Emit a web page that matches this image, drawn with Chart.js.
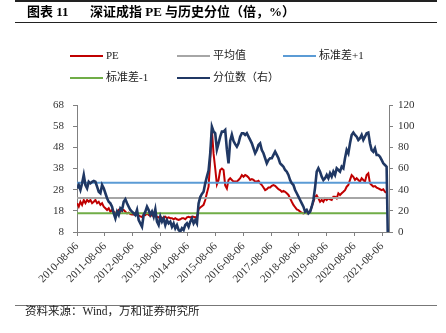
<!DOCTYPE html>
<html><head><meta charset="utf-8">
<script src="https://cdn.jsdelivr.net/npm/chart.js@4.4.0/dist/chart.umd.min.js"></script>
<style>
html,body{margin:0;padding:0;background:#fff;}
#wrap{position:relative;width:446px;height:333px;overflow:hidden;background:#fff;}
canvas{position:absolute;left:0;top:0;}
.t{position:absolute;white-space:nowrap;font-family:"Liberation Serif","Noto Sans CJK SC",serif;color:#000;line-height:1;}
.hr{position:absolute;left:15px;width:422px;}
.lg{position:absolute;white-space:nowrap;font-family:"Liberation Serif","Noto Sans CJK SC",serif;font-size:11px;color:#222;line-height:1;}
.lgline{position:absolute;width:33px;height:2.5px;}
</style></head>
<body><div id="wrap">
<canvas id="c" width="446" height="333" style="width:446px;height:333px"></canvas>
<div class="hr" style="top:0;height:2px;background:#222"></div>
<div class="t" style="left:27px;top:5px;font-size:13px;font-weight:bold">图表 11</div>
<div class="t" style="left:90px;top:5px;font-size:13px;font-weight:bold">深证成指 PE 与历史分位（倍，%）</div>
<div class="hr" style="top:22px;height:1.3px;background:#222"></div>
<div id="legend"></div>
<div class="hr" style="top:305px;height:1.4px;background:#777"></div>
<div class="t" style="left:25px;top:306px;font-size:11.5px;color:#222">资料来源：Wind，万和证券研究所</div>
</div>
<script>
// ---- data ----
const dates = [
2010.60,2010.66,2010.72,2010.78,2010.84,2010.90,2010.96,2011.02,2011.08,2011.14,
2011.20,2011.26,2011.32,2011.38,2011.44,2011.50,2011.56,2011.62,2011.68,2011.74,
2011.80,2011.86,2011.92,2011.98,2012.04,2012.10,2012.16,2012.22,2012.28,2012.34,
2012.40,2012.46,2012.52,2012.58,2012.64,2012.70,2012.76,2012.82,2012.88,2012.94,
2013.00,2013.06,2013.12,2013.18,2013.24,2013.30,2013.36,2013.42,2013.48,2013.54,
2013.60,2013.66,2013.72,2013.78,2013.84,2013.90,2013.96,2014.02,2014.08,2014.14,
2014.20,2014.26,2014.32,2014.38,2014.44,2014.50,2014.56,2014.62,2014.68,2014.74,
2014.80,2014.86,2014.92,2014.98,2015.04,2015.10,2015.16,2015.22,2015.28,2015.34,
2015.40,2015.46,2015.52,2015.58,2015.64,2015.70,2015.76,2015.82,2015.88,2015.94,
2016.00,2016.06,2016.12,2016.18,2016.24,2016.30,2016.36,2016.42,2016.48,2016.54,
2016.60,2016.66,2016.72,2016.78,2016.84,2016.90,2016.96,2017.02,2017.08,2017.14,
2017.20,2017.26,2017.32,2017.38,2017.44,2017.50,2017.56,2017.62,2017.68,2017.74,
2017.80,2017.86,2017.92,2017.98,2018.04,2018.10,2018.16,2018.22,2018.28,2018.34,
2018.40,2018.46,2018.52,2018.58,2018.64,2018.70,2018.76,2018.82,2018.88,2018.94,
2019.00,2019.06,2019.12,2019.18,2019.24,2019.30,2019.36,2019.42,2019.48,2019.54,
2019.60,2019.66,2019.72,2019.78,2019.84,2019.90,2019.96,2020.02,2020.08,2020.14,
2020.20,2020.26,2020.32,2020.38,2020.44,2020.50,2020.56,2020.62,2020.68,2020.74,
2020.80,2020.86,2020.92,2020.98,2021.04,2021.10,2021.16,2021.22,2021.28,2021.34,
2021.40,2021.46,2021.52,2021.58,2021.64,2021.70,2021.76,2021.80
];
const peValues = [
21.6,20.0,22.3,20.8,23.1,21.6,23.1,22.3,23.1,21.6,
22.3,23.1,21.6,22.3,20.8,21.6,20.0,19.2,18.4,19.2,
17.6,18.4,17.6,16.8,17.6,18.4,17.6,18.4,18.4,17.6,
16.8,17.1,16.5,16.3,16.3,16.2,16.4,15.8,15.4,15.1,
16.2,16.0,16.8,16.1,15.6,16.0,15.5,15.6,15.2,14.9,
15.2,14.5,14.9,15.2,14.5,14.9,14.5,14.5,14.0,14.5,
14.0,13.7,14.0,14.5,14.5,14.0,14.9,15.2,14.9,15.2,
15.2,14.9,15.2,18.8,19.6,20.2,20.8,23.1,26.4,29.4,
42.0,56.0,45.0,38.0,30.5,32.6,37.3,38.0,37.3,30.0,
28.5,32.6,33.4,32.6,31.8,31.8,31.8,32.6,33.4,34.9,
34.1,34.9,34.5,33.8,32.6,33.0,32.6,31.8,31.8,32.2,
31.0,30.2,29.0,27.8,28.2,29.0,29.0,29.8,30.2,29.8,
29.0,28.2,27.8,27.0,27.4,27.0,26.3,25.5,23.9,22.3,
20.8,19.7,18.7,18.4,17.6,17.1,16.8,17.1,16.8,16.8,
17.6,20.0,22.3,24.5,25.3,23.9,22.3,23.1,22.3,23.9,
23.1,23.9,23.4,23.1,24.7,24.7,23.9,26.3,25.5,26.3,
27.0,27.8,29.4,30.2,32.6,34.9,34.1,32.6,33.4,32.6,
31.8,33.4,32.6,31.8,34.9,35.7,31.0,30.2,29.4,29.7,
29.0,28.6,28.2,27.8,28.2,27.0,26.6,26.6
];
const percentileValues = [
41.3,44.4,39.7,46.0,53.9,44.4,41.3,47.5,46.0,47.5,
48.2,47.5,42.8,38.1,36.6,44.4,41.3,36.6,31.9,28.6,
27.1,23.9,17.7,12.9,19.2,16.1,22.4,20.8,28.6,30.9,
27.1,23.9,20.8,19.2,17.7,16.1,20.8,11.3,8.2,5.0,
16.1,19.2,23.9,20.8,16.1,19.2,14.5,21.5,9.8,6.6,
14.5,9.8,12.9,6.6,11.3,8.2,9.8,5.0,8.2,3.5,
6.6,1.9,0.3,3.5,1.9,6.6,8.2,5.0,9.8,12.9,
8.2,11.3,8.2,27.0,33.0,36.0,38.1,46.0,52.3,58.0,
74.4,99.5,95.0,93.3,78.0,83.8,90.1,94.8,94.8,96.4,
78.0,64.9,86.0,92.0,86.0,83.0,80.6,83.8,90.1,93.3,
93.3,91.7,93.3,90.1,87.0,83.8,79.1,74.4,77.5,82.2,
83.8,77.5,74.4,69.7,64.9,68.1,69.7,69.7,72.8,75.9,
72.8,69.7,64.9,63.3,61.7,58.6,57.0,53.9,49.1,46.0,
44.4,39.7,36.6,33.4,30.2,27.1,23.9,19.2,20.8,17.7,
19.2,23.9,30.2,42.0,57.0,60.2,57.0,52.3,49.1,50.8,
53.9,50.8,55.5,52.3,57.0,53.9,60.2,58.6,57.0,61.7,
60.2,69.7,77.5,74.4,83.8,91.7,94.0,91.7,90.1,87.0,
88.6,91.7,87.0,90.1,93.3,94.0,83.8,77.5,75.9,79.1,
72.8,72.8,71.2,68.1,64.9,63.3,61.7,0
];
const meanPE = 24.05;
const plusOneSD = 31.3;
const minusOneSD = 16.8;
const tickYears = [2010.596,2011.596,2012.596,2013.596,2014.596,2015.596,2016.596,2017.596,2018.596,2019.596,2020.596,2021.596];
const tickLabels = ['2010-08-06','2011-08-06','2012-08-06','2013-08-06','2014-08-06','2015-08-06','2016-08-06','2017-08-06','2018-08-06','2019-08-06','2020-08-06','2021-08-06'];
const seriesNames = ['PE','平均值','标准差+1','标准差-1','分位数（右）'];

// ---- build ----
const pts = vals => vals.map((v,i)=>({x:dates[i], y:v}));
const flat = v => [{x:dates[0], y:v},{x:dates[dates.length-1], y:v}];
const colors = ['#C00000','#A6A6A6','#5B9BD5','#70AD47','#203864'];

const datasets = [
  {label:seriesNames[0], data:pts(peValues), borderColor:colors[0], borderWidth:2, yAxisID:'y', order:4},
  {label:seriesNames[1], data:flat(meanPE), borderColor:colors[1], borderWidth:2, yAxisID:'y', order:3},
  {label:seriesNames[2], data:flat(plusOneSD), borderColor:colors[2], borderWidth:2, yAxisID:'y', order:2},
  {label:seriesNames[3], data:flat(minusOneSD), borderColor:colors[3], borderWidth:2, yAxisID:'y', order:1},
  {label:seriesNames[4], data:pts(percentileValues), borderColor:colors[4], borderWidth:2.6, yAxisID:'y2', order:0}
];

// legend (HTML) from dataset config
const legendPos = [[70,56],[177,56],[283,56],[70,78],[177,78]];
const lg = document.getElementById('legend');
datasets.forEach((d,i)=>{
  const [x,y] = legendPos[i];
  const ln = document.createElement('div');
  ln.className='lgline'; ln.style.left=x+'px'; ln.style.top=(y-1.25)+'px'; ln.style.background=d.borderColor;
  lg.appendChild(ln);
  const tx = document.createElement('div');
  tx.className='lg'; tx.style.left=(x+36)+'px'; tx.style.top=(y-6)+'px'; tx.textContent=d.label;
  lg.appendChild(tx);
});

const tickFont = {family:'Liberation Serif', size:11};
const axisGray = '#808080';
new Chart(document.getElementById('c'), {
  type:'line',
  data:{datasets},
  options:{
    responsive:false, animation:false, devicePixelRatio:1,
    layout:{padding:{top:105,left:0,right:0,bottom:0}},
    plugins:{legend:{display:false}, title:{display:false}, tooltip:{enabled:false}},
    elements:{point:{radius:0}, line:{tension:0, fill:false}},
    scales:{
      x:{type:'linear', min:2010.596, max:2021.846,
        afterBuildTicks:s=>{s.ticks = tickYears.map(v=>({value:v}));},
        afterFit:s=>{s.height = 101;},
        ticks:{autoSkip:false, minRotation:45, maxRotation:45, padding:4, font:tickFont, color:'#333',
          callback:(v,i)=>tickLabels[i]},
        grid:{drawOnChartArea:false, drawTicks:true, tickLength:4, color:axisGray},
        border:{color:axisGray, width:1}},
      y:{position:'left', min:8, max:68,
        afterFit:s=>{s.width = 77;},
        ticks:{stepSize:10, padding:9, font:tickFont, color:'#333'},
        grid:{drawOnChartArea:false, drawTicks:true, tickLength:4, color:axisGray},
        border:{color:axisGray, width:1}},
      y2:{position:'right', min:0, max:120,
        afterFit:s=>{s.width = 57;},
        ticks:{stepSize:20, padding:5, font:tickFont, color:'#333'},
        grid:{drawOnChartArea:false, drawTicks:true, tickLength:4, color:axisGray},
        border:{color:axisGray, width:1}}
    }
  }
});
</script>
</body></html>
